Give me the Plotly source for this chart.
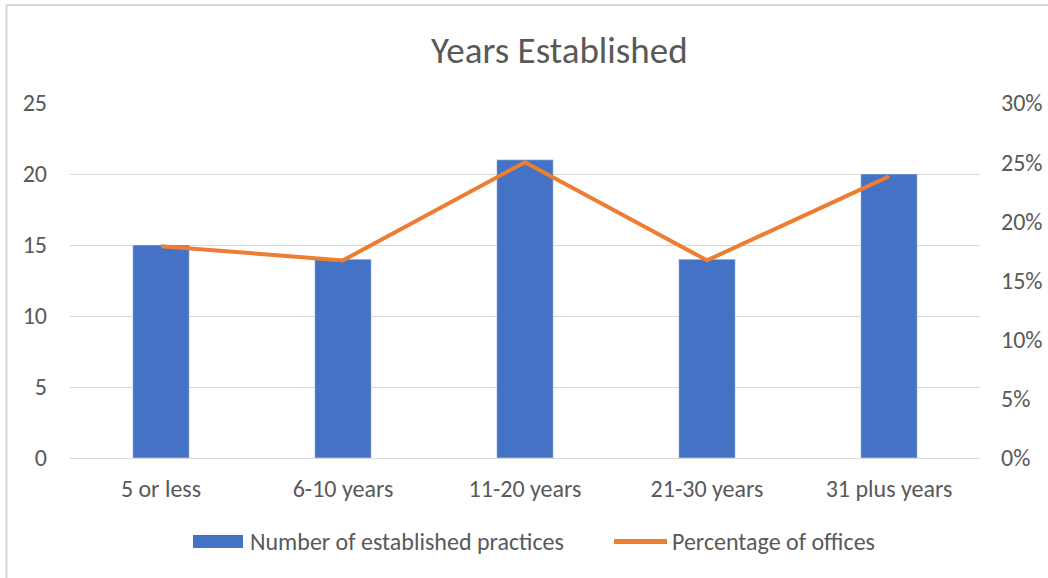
import plotly.graph_objects as go

categories = ["5 or less", "6-10 years", "11-20 years", "21-30 years", "31 plus years"]
practices = [15, 14, 21, 14, 20]
pct_offices = [0.179, 0.167, 0.25, 0.167, 0.238]
legend_names = ["Number of established practices", "Percentage of offices"]
chart_title = "Years Established"

BLUE = "#4472C4"
ORANGE = "#ED7D31"
GREY = "#595959"
EDGE = "#D9D9D9"
FONT = "Carlito, Calibri, 'Liberation Sans', sans-serif"

# plot area in page pixels
PX0, PX1, PY0, PY1 = 70, 980, 103, 458


def px(x):
    return (x - PX0) / (PX1 - PX0)


def py(y):
    return (PY1 - y) / (PY1 - PY0)


fig = go.Figure()
fig.add_trace(go.Bar(
    x=categories, y=practices, name=legend_names[0],
    marker_color=BLUE, width=0.31,
))
fig.add_trace(go.Scatter(
    x=categories, y=pct_offices, name=legend_names[1],
    mode="lines", yaxis="y2",
    line=dict(color=ORANGE, width=4),
))

# chart frame + hand-drawn legend so the swatches look like the original
shapes = [
    dict(type="line", xref="paper", yref="paper",
         x0=px(6), x1=px(1048), y0=py(5), y1=py(5),
         line=dict(color=EDGE, width=2)),
    dict(type="line", xref="paper", yref="paper",
         x0=px(6.5), x1=px(6.5), y0=py(5), y1=py(578),
         line=dict(color=EDGE, width=2)),
    dict(type="rect", xref="paper", yref="paper",
         x0=px(193), x1=px(243), y0=py(548), y1=py(535),
         fillcolor=BLUE, line=dict(width=0)),
    dict(type="line", xref="paper", yref="paper",
         x0=px(614), x1=px(667), y0=py(541.5), y1=py(541.5),
         line=dict(color=ORANGE, width=5)),
]
annotations = [
    dict(text=chart_title, xref="paper", yref="paper", x=px(559), y=py(51),
         xanchor="center", yanchor="middle", showarrow=False,
         font=dict(size=37, color=GREY)),
    dict(text=legend_names[0], xref="paper", yref="paper", x=px(248), y=py(541),
         xanchor="left", yanchor="middle", showarrow=False,
         font=dict(size=24, color=GREY)),
    dict(text=legend_names[1], xref="paper", yref="paper", x=px(670), y=py(541),
         xanchor="left", yanchor="middle", showarrow=False,
         font=dict(size=24, color=GREY)),
]

fig.update_layout(
    width=1048, height=578,
    paper_bgcolor="white", plot_bgcolor="white",
    font=dict(family=FONT, size=24, color=GREY),
    margin=dict(l=70, r=68, t=103, b=120),
    xaxis=dict(showgrid=False, showline=True, linecolor=EDGE, linewidth=1,
               ticks="", ticklabelstandoff=9, automargin=False),
    yaxis=dict(range=[0, 25], dtick=5, showgrid=True, gridcolor=EDGE,
               zeroline=False, ticklabelstandoff=22, automargin=False),
    yaxis2=dict(range=[0, 0.30], dtick=0.05, tickformat=".0%", overlaying="y",
                side="right", showgrid=False, zeroline=False,
                ticklabelstandoff=20, automargin=False),
    showlegend=False,
    shapes=shapes,
    annotations=annotations,
)

# drop the default body margin so the figure fills the window exactly
fig.write_html("out.html", config={"displayModeBar": False},
               post_script="document.body.style.margin='0';")
